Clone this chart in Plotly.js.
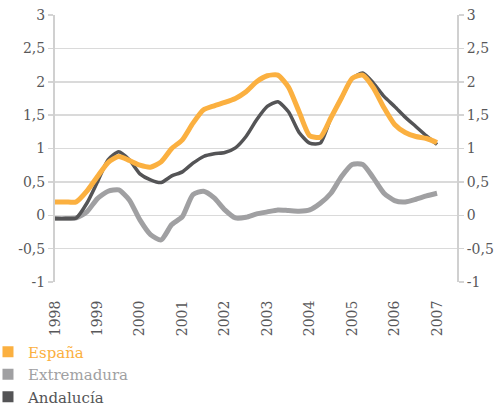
<!DOCTYPE html>
<html>
<head>
<meta charset="utf-8">
<script src="https://cdn.plot.ly/plotly-3.0.1.min.js"></script>
<style>html,body{margin:0;padding:0;background:#fff;}#chart{width:501px;height:405px;}</style>
</head>
<body>
<div id="chart"></div>
<script>
// Quarterly periods, 1998 Q1 ... 2007 Q1
var periods = [1998.0,1998.25,1998.5,1998.75,1999.0,1999.25,1999.5,1999.75,2000.0,2000.25,2000.5,2000.75,
  2001.0,2001.25,2001.5,2001.75,2002.0,2002.25,2002.5,2002.75,2003.0,2003.25,2003.5,2003.75,
  2004.0,2004.25,2004.5,2004.75,2005.0,2005.25,2005.5,2005.75,2006.0,2006.25,2006.5,2006.75,2007.0];
var espana = [0.2,0.2,0.2,0.36,0.58,0.79,0.88,0.82,0.75,0.72,0.8,1.0,1.13,1.38,1.58,1.64,1.69,1.75,1.85,2.0,2.09,2.1,1.92,1.55,1.19,1.17,1.46,1.76,2.05,2.1,1.91,1.61,1.36,1.24,1.18,1.15,1.09];
var extremadura = [-0.05,-0.05,-0.04,0.05,0.25,0.36,0.38,0.23,-0.07,-0.29,-0.37,-0.14,-0.02,0.31,0.36,0.26,0.08,-0.04,-0.03,0.02,0.05,0.08,0.07,0.06,0.08,0.18,0.33,0.58,0.76,0.76,0.56,0.33,0.22,0.2,0.24,0.29,0.33];
var andalucia = [-0.05,-0.05,-0.04,0.18,0.5,0.83,0.95,0.83,0.62,0.53,0.49,0.59,0.65,0.78,0.88,0.92,0.94,1.01,1.18,1.43,1.63,1.7,1.55,1.24,1.08,1.08,1.46,1.76,2.05,2.13,1.98,1.78,1.63,1.47,1.33,1.19,1.06];
var seriesNames = ['España','Extremadura','Andalucía'];
var yearTicks = [1998,1999,2000,2001,2002,2003,2004,2005,2006,2007];
var yTicks = [-1,-0.5,0,0.5,1,1.5,2,2.5,3];
var yTickText = ['-1','-0,5','0','0,5','1','1,5','2','2,5','3'];

var cOrange = '#FBB040', cGray = '#A0A0A2', cDark = '#545456';
var fontFam = 'DejaVu Serif';

var traces = [
  {x: periods, y: extremadura, mode: 'lines', line: {color: cGray, width: 5, shape: 'spline', smoothing: 0.6}, showlegend: false, hoverinfo: 'skip'},
  {x: periods, y: andalucia, mode: 'lines', line: {color: cDark, width: 3.5, shape: 'spline', smoothing: 0.6}, showlegend: false, hoverinfo: 'skip'},
  {x: periods, y: espana, mode: 'lines', line: {color: cOrange, width: 5, shape: 'spline', smoothing: 0.6}, showlegend: false, hoverinfo: 'skip'},
  // legend entries (square swatches)
  {x: [null], y: [null], mode: 'markers', marker: {symbol: 'square', size: 11, color: cOrange},
   name: '<span style="color:' + cOrange + '">' + seriesNames[0] + '</span>', yaxis: 'y2'},
  {x: [null], y: [null], mode: 'markers', marker: {symbol: 'square', size: 11, color: cGray},
   name: '<span style="color:' + cGray + '">' + seriesNames[1] + '</span>', yaxis: 'y2'},
  {x: [null], y: [null], mode: 'markers', marker: {symbol: 'square', size: 11, color: cDark},
   name: '<span style="color:' + cDark + '">' + seriesNames[2] + '</span>', yaxis: 'y2'}
];

var yCommon = {
  range: [-1, 3], tickvals: yTicks, ticktext: yTickText, ticks: 'outside', ticklen: 5, tickwidth: 1.5, tickcolor: '#d4d4d4',
  showgrid: true, gridcolor: '#dadada', gridwidth: 1.5, zeroline: false,
  showline: true, linecolor: '#d0d0d0', linewidth: 2,
  tickfont: {family: fontFam, size: 14, color: '#58585a'}, fixedrange: true
};

var layout = {
  width: 501, height: 405,
  margin: {l: 55, r: 44, t: 15, b: 123, pad: 0, autoexpand: false},
  paper_bgcolor: '#ffffff', plot_bgcolor: '#ffffff',
  separators: ',.',
  font: {family: fontFam},
  showlegend: true,
  legend: {x: -0.1667, y: -0.2, xanchor: 'left', yanchor: 'top',
    orientation: 'v', font: {family: fontFam, size: 15, color: '#545456'}, bgcolor: 'rgba(0,0,0,0)',
    tracegroupgap: 0, itemwidth: 30},
  xaxis: {range: [1998, 2007.47], tickvals: yearTicks, ticktext: yearTicks.map(String), tickangle: -90,
    ticks: 'outside', ticklen: 12, tickcolor: 'rgba(0,0,0,0)', showgrid: false, zeroline: false, showline: false,
    tickfont: {family: fontFam, size: 14, color: '#58585a'}, fixedrange: true},
  yaxis: Object.assign({}, yCommon, {side: 'left'}),
  yaxis2: Object.assign({}, yCommon, {side: 'right', overlaying: 'y', showgrid: false})
};

Plotly.newPlot('chart', traces, layout, {displayModeBar: false, staticPlot: true});
</script>
</body>
</html>
